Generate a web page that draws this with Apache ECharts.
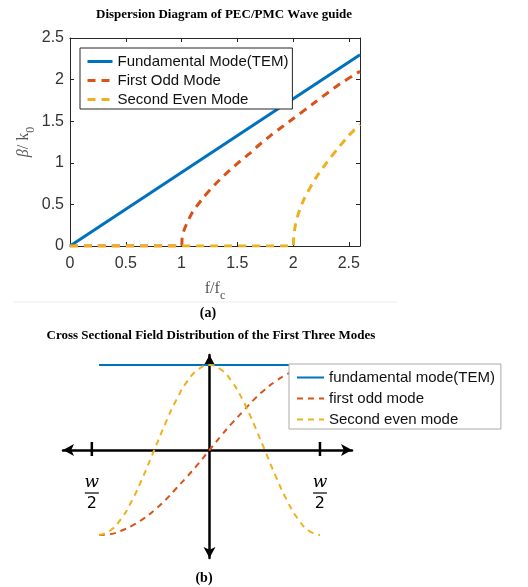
<!DOCTYPE html>
<html><head><meta charset="utf-8">
<script src="https://cdn.jsdelivr.net/npm/echarts@6/dist/echarts.min.js"></script>
<style>html,body{margin:0;padding:0;background:#fff}#c{width:528px;height:587px}</style>
</head><body><div id="c"></div>
<script>
// ---- Panel (a): dispersion diagram ----
const fundFreq = [0, 2.6];
const fundBeta = [0, 2.3];
const oddFreq = [0, 1, 1.005, 1.02, 1.05, 1.1, 1.2, 1.3, 1.4, 1.5, 1.6, 1.7, 1.8, 1.9, 2.0, 2.2, 2.4, 2.6];
const oddBeta = [0, 0, 0.09, 0.18, 0.28, 0.41, 0.59, 0.74, 0.87, 0.99, 1.1, 1.22, 1.33, 1.43, 1.53, 1.73, 1.93, 2.1];
const evenFreq = [0, 2, 2.005, 2.02, 2.05, 2.1, 2.2, 2.3, 2.4, 2.5, 2.6];
const evenBeta = [0, 0, 0.09, 0.25, 0.40, 0.57, 0.81, 1.0, 1.17, 1.33, 1.46];
const xTicksA = [0, 0.5, 1, 1.5, 2, 2.5];
const yTicksA = [0, 0.5, 1, 1.5, 2, 2.5];
const namesA = ['Fundamental Mode(TEM)', 'First Odd Mode', 'Second Even Mode'];

// ---- Panel (b): cross sectional field distribution ----
const pos = [-1, -0.9, -0.8, -0.7, -0.6, -0.5, -0.4, -0.3, -0.2, -0.1, 0, 0.1, 0.2, 0.3, 0.4, 0.5, 0.6, 0.7, 0.8, 0.9, 1];
const temField = [1, 1, 1, 1, 1, 1, 1, 1, 1, 1, 1, 1, 1, 1, 1, 1, 1, 1, 1, 1, 1];
const oddField = [-1, -0.99, -0.95, -0.89, -0.81, -0.71, -0.59, -0.45, -0.31, -0.16, 0, 0.16, 0.31, 0.45, 0.59, 0.71, 0.81, 0.89, 0.95, 0.99, 1];
const evenField = [-1, -0.95, -0.81, -0.59, -0.31, 0, 0.31, 0.59, 0.81, 0.95, 1, 0.95, 0.81, 0.59, 0.31, 0, -0.31, -0.59, -0.81, -0.95, -1];
const edgeTicks = [-1.065, 1];
const namesB = ['fundamental mode(TEM)', 'first odd mode', 'Second even mode'];

const colors = ['#0072BD', '#D95319', '#EDB120'];
const pair = (xs, ys) => xs.map((x, i) => [x, ys[i]]);

const chart = echarts.init(document.getElementById('c'), null, {renderer: 'canvas'});
const axisGray = '#262626';
const sansFont = 'Arial, "Liberation Sans", Helvetica, sans-serif';
const serifFont = '"Times New Roman", "Liberation Serif", serif';

const option = {
  animation: false,
  backgroundColor: '#fff',
  grid: [
    {left: 70, top: 38, width: 290, height: 208},
    {left: 63, top: 355, width: 289, height: 203}
  ],
  xAxis: [
    {gridIndex: 0, type: 'value', min: 0, max: 2.6, interval: 0.5,
     axisLine: {onZero: false, lineStyle: {color: axisGray, width: 1}},
     axisTick: {inside: true, length: 4, lineStyle: {color: axisGray}},
     axisLabel: {color: '#333', fontSize: 16, fontFamily: sansFont, margin: 10,
       customValues: xTicksA, formatter: v => String(v)},
     splitLine: {show: false},
     name: 'f/f{s|c}', nameLocation: 'middle', nameGap: 30,
     nameTextStyle: {color: '#555', fontSize: 16, fontFamily: serifFont,
       rich: {s: {fontSize: 12, fontFamily: serifFont, color: '#555', padding: [14, 0, 0, 0]}}}},
    {gridIndex: 0, type: 'value', min: 0, max: 2.6, interval: 0.5, position: 'top',
     axisLine: {onZero: false, lineStyle: {color: axisGray, width: 1}},
     axisTick: {inside: true, length: 4, lineStyle: {color: axisGray}, customValues: xTicksA},
     axisLabel: {show: false}, splitLine: {show: false}},
    {gridIndex: 1, type: 'value', min: -1.326, max: 1.29,
     axisLine: {onZero: true, symbol: ['arrow', 'arrow'], symbolSize: [9, 11],
       lineStyle: {color: '#000', width: 2.5}},
     axisTick: {show: false}, axisLabel: {show: false}, splitLine: {show: false}}
  ],
  yAxis: [
    {gridIndex: 0, type: 'value', min: 0, max: 2.5, interval: 0.5,
     axisLine: {show: true, onZero: false, lineStyle: {color: axisGray, width: 1}},
     axisTick: {show: true, inside: true, length: 4, lineStyle: {color: axisGray}},
     axisLabel: {color: '#333', fontSize: 16, fontFamily: sansFont, margin: 6,
       customValues: yTicksA, formatter: v => String(v)},
     splitLine: {show: false}},
    {gridIndex: 0, type: 'value', min: 0, max: 2.5, interval: 0.5, position: 'right',
     axisLine: {show: true, onZero: false, lineStyle: {color: axisGray, width: 1}},
     axisTick: {show: true, inside: true, length: 4, lineStyle: {color: axisGray}},
     axisLabel: {show: false}, splitLine: {show: false}},
    {gridIndex: 1, type: 'value', min: -1.271, max: 1.118,
     axisLine: {show: true, onZero: true, symbol: ['arrow', 'arrow'], symbolSize: [9, 11],
       lineStyle: {color: '#000', width: 2.5}},
     axisTick: {show: false}, axisLabel: {show: false}, splitLine: {show: false}}
  ],
  legend: [
    {data: namesA, left: 80, top: 48, orient: 'vertical', padding: [6, 4, 2, 6],
     itemWidth: 25, itemHeight: 14, itemGap: 4,
     itemStyle: {opacity: 0}, lineStyle: {width: 3},
     backgroundColor: '#fff', borderColor: '#262626', borderWidth: 1,
     textStyle: {color: '#111', fontSize: 15, fontFamily: sansFont}},
    {data: namesB, left: 289, top: 364, orient: 'vertical', padding: [6, 6, 2, 7],
     itemWidth: 27, itemHeight: 14, itemGap: 6, z: 10,
     itemStyle: {opacity: 0}, lineStyle: {width: 2},
     backgroundColor: '#fff', borderColor: '#aaa', borderWidth: 1,
     textStyle: {color: '#111', fontSize: 15, fontFamily: sansFont}}
  ],
  series: [
    {name: namesA[0], type: 'line', xAxisIndex: 0, yAxisIndex: 0, data: pair(fundFreq, fundBeta),
     symbol: 'none', color: colors[0], lineStyle: {width: 3, color: colors[0]}},
    {name: namesA[1], type: 'line', xAxisIndex: 0, yAxisIndex: 0, data: pair(oddFreq, oddBeta),
     symbol: 'none', smooth: 0.2, color: colors[1], lineStyle: {width: 3, type: [8, 6], color: colors[1]}},
    {name: namesA[2], type: 'line', xAxisIndex: 0, yAxisIndex: 0, data: pair(evenFreq, evenBeta),
     symbol: 'none', smooth: 0.2, color: colors[2], lineStyle: {width: 3, type: [8, 6], color: colors[2]}},
    {name: namesB[0], type: 'line', xAxisIndex: 2, yAxisIndex: 2, data: pair(pos, temField),
     symbol: 'none', color: colors[0], lineStyle: {width: 2, color: colors[0]}},
    {name: namesB[1], type: 'line', xAxisIndex: 2, yAxisIndex: 2, data: pair(pos, oddField),
     symbol: 'none', smooth: true, color: colors[1], lineStyle: {width: 2, type: [6, 5], color: colors[1]}},
    {name: namesB[2], type: 'line', xAxisIndex: 2, yAxisIndex: 2, data: pair(pos, evenField),
     symbol: 'none', smooth: true, color: colors[2], lineStyle: {width: 2, type: [6, 5], color: colors[2]}}
  ]
};
chart.setOption(option);

// titles, captions, y-axis name, and schematic ticks / labels positioned through the axes
const g = [];
g.push({type: 'text', x: 224, y: 15, style: {text: 'Dispersion Diagram of PEC/PMC Wave guide',
  fontSize: 13, fontWeight: 'bold', fontFamily: serifFont, fill: '#000', align: 'center', verticalAlign: 'middle'}});
g.push({type: 'text', x: 24, y: 142, rotation: Math.PI / 2, style: {text: '{i|β}/ k{s|0}',
  fontSize: 16, fontFamily: serifFont, fill: '#555', align: 'center', verticalAlign: 'middle',
  rich: {i: {fontStyle: 'italic', fontSize: 16, fontFamily: serifFont, fill: '#555'},
         s: {fontSize: 12, fontFamily: serifFont, fill: '#555', padding: [14, 0, 0, 0]}}}});
g.push({type: 'line', shape: {x1: 13, y1: 302, x2: 397, y2: 302}, style: {stroke: '#ececec', lineWidth: 1}});
g.push({type: 'text', x: 208, y: 313, style: {text: '(a)',
  fontSize: 14, fontWeight: 'bold', fontFamily: serifFont, fill: '#000', align: 'center', verticalAlign: 'middle'}});
g.push({type: 'text', x: 211, y: 336, style: {text: 'Cross Sectional Field Distribution of the First Three Modes',
  fontSize: 13, fontWeight: 'bold', fontFamily: serifFont, fill: '#000', align: 'center', verticalAlign: 'middle'}});
g.push({type: 'text', x: 204, y: 578, style: {text: '(b)',
  fontSize: 14, fontWeight: 'bold', fontFamily: serifFont, fill: '#000', align: 'center', verticalAlign: 'middle'}});
edgeTicks.forEach(v => {
  const p = chart.convertToPixel({xAxisIndex: 2, yAxisIndex: 2}, [v, 0]);
  g.push({type: 'line', shape: {x1: p[0], y1: p[1] - 8, x2: p[0], y2: p[1] + 6},
    style: {stroke: '#000', lineWidth: 2.5}});
  g.push({type: 'text', x: p[0], y: p[1] + 33, style: {text: 'w', fontSize: 17, fontStyle: 'italic',
    fontFamily: '"DejaVu Serif", serif', fill: '#000', align: 'center', verticalAlign: 'middle'}});
  g.push({type: 'line', shape: {x1: p[0] - 7, y1: p[1] + 43, x2: p[0] + 7, y2: p[1] + 43},
    style: {stroke: '#000', lineWidth: 1.2}});
  g.push({type: 'text', x: p[0], y: p[1] + 54, style: {text: '2', fontSize: 16,
    fontFamily: '"DejaVu Sans", sans-serif', fill: '#000', align: 'center', verticalAlign: 'middle'}});
});
chart.setOption({graphic: g});
</script></body></html>
